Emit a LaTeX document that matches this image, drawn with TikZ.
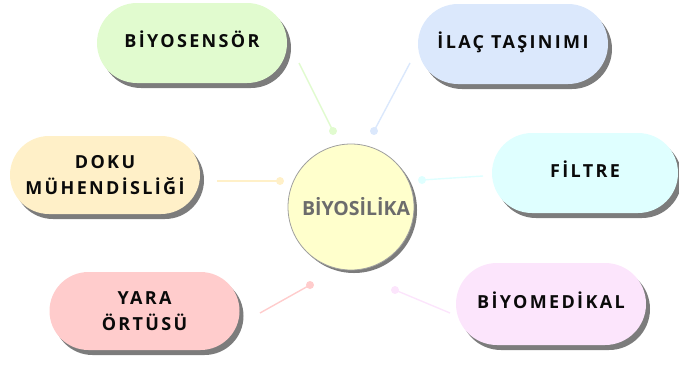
\documentclass[tikz,border=0pt]{standalone}
\usepackage{fontspec}
\usetikzlibrary{shapes.misc,shadows}
\newfontfamily\labfont[LetterSpace=13]{Open Sans}
\newfontfamily\cenfont{Open Sans}
\definecolor{cgreen}{HTML}{E1FBCF}
\definecolor{cblue}{HTML}{DBE8FC}
\definecolor{ccream}{HTML}{FFF0C8}
\definecolor{ccyan}{HTML}{DFFFFF}
\definecolor{cpink}{HTML}{FFCCCC}
\definecolor{clav}{HTML}{FCE5FC}
\definecolor{cyel}{HTML}{FFFFCC}
\definecolor{shd}{HTML}{7C7C7C}
\definecolor{txt}{HTML}{0A0A0A}
\definecolor{ctxt}{HTML}{6C6C6C}
\begin{document}
\begin{tikzpicture}[x=1pt,y=-1pt,
  pill/.style={rounded rectangle, minimum width=190pt, minimum height=80pt,
    inner sep=0pt, align=center,
    font=\labfont\bfseries\fontsize{18}{25.5}\selectfont, text=txt,
    drop shadow={shadow xshift=4pt, shadow yshift=-5pt, fill=shd, opacity=1}},
  oneline/.style={text height=12.5pt, text depth=3pt},
  link/.style={line width=1.4pt},
  dotc/.style={circle, inner sep=0pt, minimum size=8pt}]
\useasboundingbox (0,0) rectangle (679,370);

% pills
\node[pill, oneline, fill=cgreen] (bs) at (192,43) {BİYOSENSÖR};
\node[pill, oneline, fill=cblue] (il) at (513,44) {İLAÇ TAŞINIMI};
\node[pill, fill=ccream, minimum height=78pt] (dm) at (105,175) {DOKU\\MÜHENDİSLİĞİ};
\node[pill, oneline, fill=ccyan, minimum width=186pt] (fi) at (585,173) {FİLTRE};
\node[pill, fill=cpink, minimum height=78pt] (yo) at (144.5,311) {YARA\\ÖRTÜSÜ};
\node[pill, oneline, fill=clav, minimum height=82pt] (bm) at (551,304) {BİYOMEDİKAL};

% center
\node[circle, minimum size=126pt, inner sep=0pt, fill=cyel, draw=gray!75, line width=0.8pt,
  drop shadow={shadow xshift=3pt, shadow yshift=-3pt, fill=shd, opacity=1},
  font=\cenfont\bfseries\fontsize{19.5}{22}\selectfont, text=ctxt] (c) at (351,207) {\hspace{10pt}BİYOSİLİKA};

% connector ends
\coordinate (s1) at (299,63);
\coordinate (s2) at (410,63);
\coordinate (s3) at (217,181);
\coordinate (s4) at (483,176);
\coordinate (s5) at (260,313);
\coordinate (s6) at (450,313);
\node[dotc, fill=cgreen] (d1) at (333,131) {};
\node[dotc, fill=cblue] (d2) at (374,131) {};
\node[dotc, fill=ccream] (d3) at (280,181) {};
\node[dotc, fill=ccyan] (d4) at (422,180) {};
\node[dotc, fill=cpink] (d5) at (310,285) {};
\node[dotc, fill=clav] (d6) at (395,290) {};

\draw[link, cgreen] (s1) -- (d1.center);
\draw[link, cblue] (s2) -- (d2.center);
\draw[link, ccream] (s3) -- (d3.center);
\draw[link, ccyan] (s4) -- (d4.center);
\draw[link, cpink] (s5) -- (d5.center);
\draw[link, clav] (s6) -- (d6.center);
\end{tikzpicture}
\end{document}
